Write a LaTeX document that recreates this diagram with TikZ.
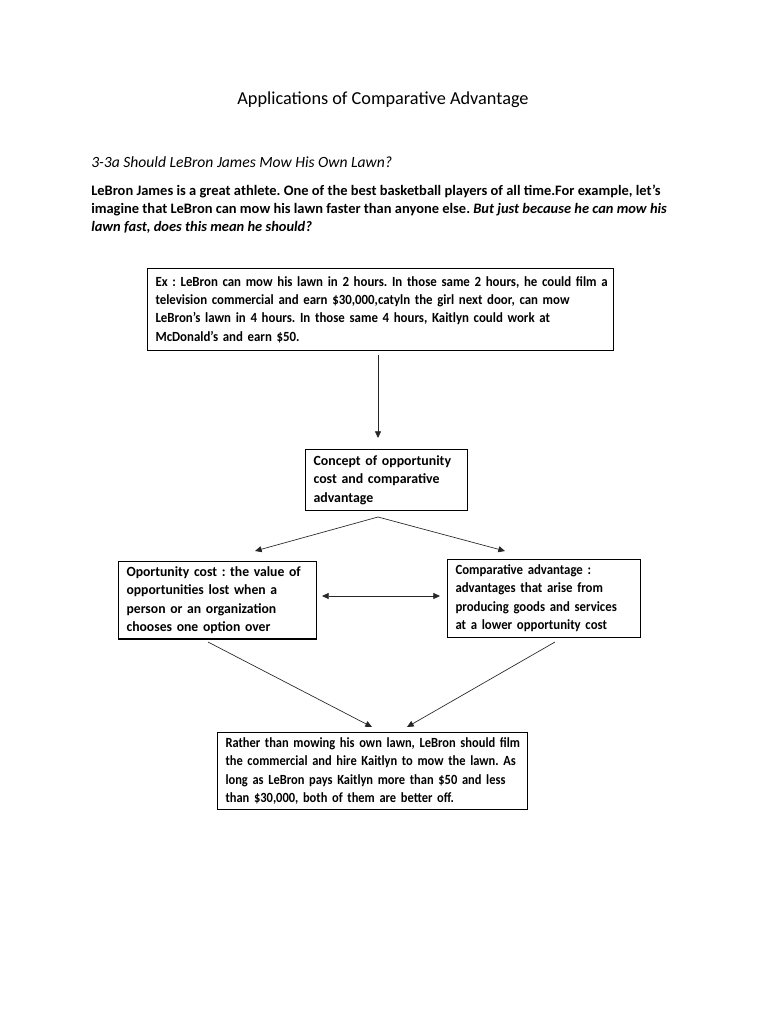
\documentclass[tikz,border=0pt]{standalone}
\usepackage{fontspec}
\setmainfont{Carlito}
\usetikzlibrary{arrows.meta,calc}
\frenchspacing
\begin{document}
\begin{tikzpicture}[x=0.75pt,y=-0.75pt,
 box/.style={draw=black, line width=0.8pt, anchor=north west, align=left, inner xsep=6pt, inner ysep=4pt},
 fs/.style={font=\bfseries\addfontfeatures{FakeStretch=#1}\fontsize{10.5pt}{13.7pt}\selectfont},
 arr/.style={-{Triangle[length=5pt,width=4.5pt]}, line width=0.5pt, draw=black!85},
 darr/.style={{Triangle[length=5pt,width=4.5pt]}-{Triangle[length=5pt,width=4.5pt]}, line width=0.5pt, draw=black!85}]
\useasboundingbox (0,0) rectangle (768,1024);
\fill[white] (0,0) rectangle (768,1024);

\node[font=\fontsize{13.7pt}{17pt}\selectfont] (title) at (383,100) {Applications of Comparative Advantage};
\node[anchor=west, inner sep=0pt, font=\itshape\fontsize{11.7pt}{15pt}\selectfont] (sub) at (91,162) {3-3a Should LeBron James Mow His Own Lawn?};
\node[anchor=north west, inner sep=0pt, align=left, font=\bfseries\fontsize{10.85pt}{13.5pt}\selectfont] (para) at (91,185) {LeBron James is a great athlete. One of the best basketball players of all time.For example, let’s\\
imagine that LeBron can mow his lawn faster than anyone else. \textit{But just because he can mow his}\\
\textit{lawn fast, does this mean he should?}};

\node[box, fs=0.918, text width=337.5pt, minimum height=61.5pt] (b1) at (147,268) {\mbox{Ex : LeBron can mow his lawn in 2 hours. In those same 2 hours, he could film a}\\
\mbox{television commercial and earn \$30,000,catyln the girl next door, can mow}\\
\mbox{LeBron’s lawn in 4 hours. In those same 4 hours, Kaitlyn could work at}\\
\mbox{McDonald’s and earn \$50.}};

\node[box, fs=0.99, text width=109.5pt, minimum height=45.75pt] (b2) at (305,449) {\mbox{Concept of opportunity}\\\mbox{cost and comparative}\\advantage};

\node[box, fs=0.977, text width=136.5pt, minimum height=56.25pt] (b3) at (118,561) {\mbox{Oportunity cost : the value of}\\\mbox{opportunities lost when a}\\\mbox{person or an organization}\\\mbox{chooses one option over}};

\node[box, fs=0.914, text width=132.75pt, minimum height=55.5pt] (b4) at (447,559) {\mbox{Comparative advantage :}\\\mbox{advantages that arise from}\\\mbox{producing goods and services}\\\mbox{at a lower opportunity cost}};

\node[box, fs=0.89, text width=220.5pt, minimum height=56.25pt] (b5) at (217,732) {\mbox{Rather than mowing his own lawn, LeBron should film}\\\mbox{the commercial and hire Kaitlyn to mow the lawn. As}\\\mbox{long as LeBron pays Kaitlyn more than \$50 and less}\\\mbox{than \$30,000, both of them are better off.}};

\coordinate (a1s) at (378,355);
\coordinate (a1e) at (378,438);
\coordinate (a2s) at (378,517);
\coordinate (a2e) at (255,551);
\coordinate (a3e) at (505,551);
\coordinate (a4s) at (322,596);
\coordinate (a4e) at (440,596);
\coordinate (a5s) at (208,642);
\coordinate (a5e) at (372,727);
\coordinate (a6s) at (555,642);
\coordinate (a6e) at (407,727);

\draw[arr] (a1s) -- (a1e);
\draw[arr] (a2s) -- (a2e);
\draw[arr] (a2s) -- (a3e);
\draw[darr] (a4s) -- (a4e);
\draw[arr] (a5s) -- (a5e);
\draw[arr] (a6s) -- (a6e);
\end{tikzpicture}
\end{document}
